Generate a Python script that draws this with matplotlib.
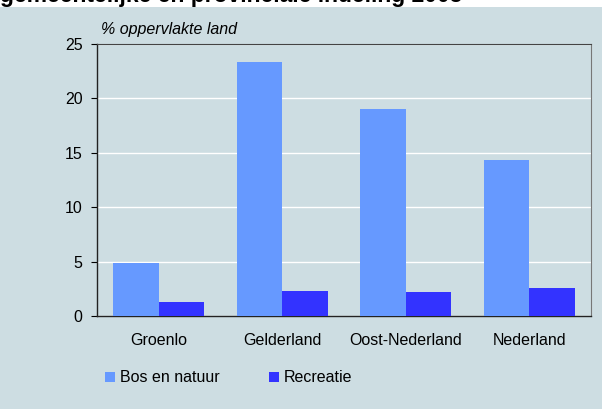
import matplotlib.pyplot as plt
import matplotlib.patches as mpatches
import numpy as np

plt.rcParams["font.family"] = ["Liberation Sans", "DejaVu Sans"]

categories = ["Groenlo", "Gelderland", "Oost-Nederland", "Nederland"]
bos_en_natuur = [4.9, 23.3, 19.0, 14.3]
recreatie = [1.3, 2.3, 2.2, 2.6]

bg = "#cddde2"
c_bos = "#6699ff"
c_rec = "#3333ff"

fig = plt.figure(figsize=(6.02, 4.09), dpi=100)
fig.patch.set_facecolor("white")
fig.patches.append(mpatches.Rectangle((0, 0), 1, 1 - 7 / 409, transform=fig.transFigure,
                                      facecolor=bg, edgecolor="none", zorder=-10))

# titel valt deels buiten beeld, zoals in het origineel
fig.text(0.0, 1 - 2 / 409, "gemeentelijke en provinciale indeling 2005",
         fontsize=16.5, fontweight="bold", ha="left", va="baseline")

ax = fig.add_axes([97 / 602, 1 - 316 / 409, (591 - 97) / 602, (316 - 44) / 409])
ax.set_facecolor(bg)

x = np.arange(len(categories))
w = 0.37
ax.bar(x - w / 2, bos_en_natuur, w, color=c_bos, label="Bos en natuur", zorder=3)
ax.bar(x + w / 2, recreatie, w, color=c_rec, label="Recreatie", zorder=3)

ax.set_xlim(-0.5, 3.5)
ax.set_ylim(0, 25)
ax.set_yticks([0, 5, 10, 15, 20, 25])
ax.set_xticks(x)
ax.set_xticklabels(categories)
ax.yaxis.grid(True, color="white", linewidth=1)
ax.set_axisbelow(True)
ax.tick_params(axis="x", length=0, pad=12, labelsize=11.5)
ax.tick_params(axis="y", length=4.5, pad=6, labelsize=11.5, width=0.8)

for s in ["left", "bottom"]:
    ax.spines[s].set_color("#222222")
    ax.spines[s].set_linewidth(1.0)
ax.spines["right"].set_color("#777777")
ax.spines["top"].set_color("#444444")

ax.text(-0.5 + 4 / 123.5, 25.6, "% oppervlakte land", fontsize=11.5, style="italic",
        ha="left", va="bottom")

fig.legend(loc="center left", bbox_to_anchor=(99 / 602, 1 - 378 / 409), ncol=2,
           frameon=False, fontsize=11.5, handlelength=0.62, handleheight=0.62,
           handletextpad=0.3, columnspacing=3.1, borderaxespad=0)

fig.savefig("out.png", dpi=100, facecolor=fig.get_facecolor())
